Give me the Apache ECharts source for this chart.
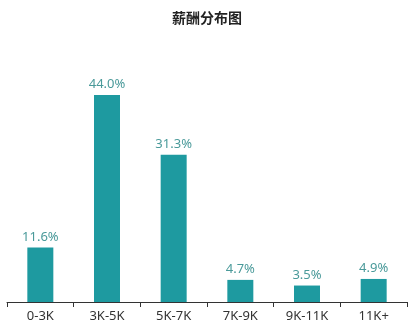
<!DOCTYPE html>
<html><head><meta charset="utf-8">
<script src="https://cdn.jsdelivr.net/npm/echarts@6/dist/echarts.min.js"></script>
<style>html,body{margin:0;padding:0;background:#fff}#c{width:414px;height:330px}</style>
</head><body><div id="c"></div>
<script>
const categories = ['0-3K','3K-5K','5K-7K','7K-9K','9K-11K','11K+'];
const values = [11.6, 44.0, 31.3, 4.7, 3.5, 4.9];
const chart = echarts.init(document.getElementById('c'));
chart.setOption({
  animation:false,
  title:{text:'薪酬分布图',left:'center',top:6,textStyle:{fontSize:14,fontWeight:'bold',color:'#222',fontFamily:'Noto Sans CJK SC'}},
  grid:{left:7,right:7,top:95,bottom:28,containLabel:false},
  xAxis:{type:'category',data:categories,
    axisLine:{lineStyle:{color:'#333'}},
    axisTick:{show:true,length:5,lineStyle:{color:'#333'}},
    axisLabel:{color:'#333',fontSize:13,margin:8,fontFamily:'Noto Sans'}},
  yAxis:{type:'value',min:0,max:44,show:false,splitLine:{show:false}},
  series:[{type:'bar',data:values,barWidth:26,itemStyle:{color:'#1e9aa0'},
    label:{show:true,position:'top',distance:4,color:'#4a9a9a',fontSize:13,fontFamily:'Noto Sans',
      formatter:p=>p.value.toFixed(1)+'%'}}]
});
</script></body></html>
